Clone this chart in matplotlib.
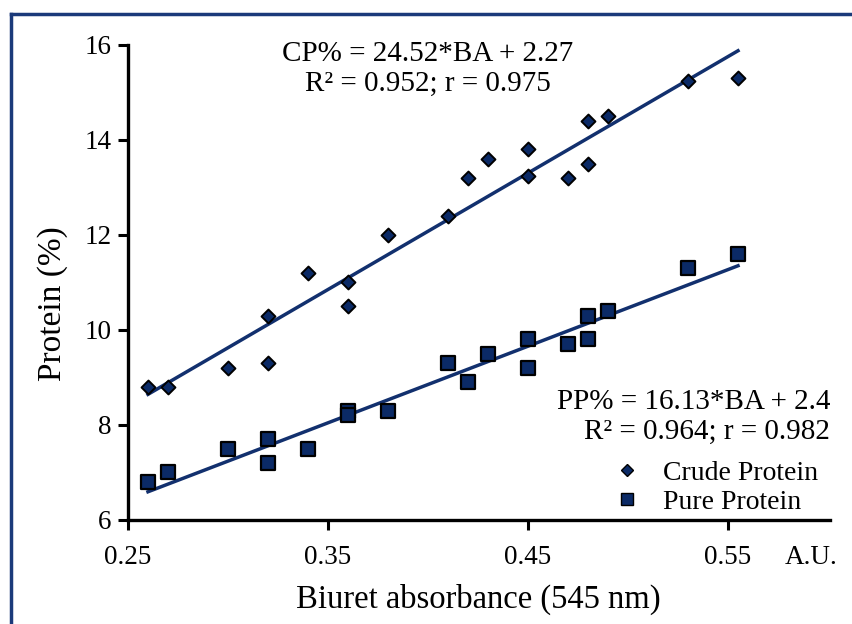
import numpy as np
import matplotlib.pyplot as plt
from matplotlib.lines import Line2D

# Biuret absorbance (A.U.) and protein content (%)
cp_x = [0.26, 0.27, 0.30, 0.32, 0.32, 0.34, 0.36, 0.36, 0.38, 0.41,
        0.42, 0.43, 0.45, 0.45, 0.47, 0.48, 0.48, 0.49, 0.53, 0.555]
cp_y = [8.8, 8.8, 9.2, 9.3, 10.3, 11.2, 10.5, 11.0, 12.0, 12.4,
        13.2, 13.6, 13.8, 13.25, 13.2, 14.4, 13.5, 14.5, 15.25, 15.3]

pp_x = [0.26, 0.27, 0.30, 0.32, 0.32, 0.34, 0.36, 0.36, 0.38, 0.41,
        0.42, 0.43, 0.45, 0.45, 0.47, 0.48, 0.48, 0.49, 0.53, 0.555]
pp_y = [6.8, 7.0, 7.5, 7.7, 7.2, 7.5, 8.3, 8.2, 8.3, 9.3,
        8.9, 9.5, 9.8, 9.2, 9.7, 10.3, 9.8, 10.4, 11.3, 11.6]

# regression coefficients as printed on the chart
cp_slope, cp_icpt = 24.52, 2.27
pp_slope, pp_icpt = 16.13, 2.4

x_ticks = [0.25, 0.35, 0.45, 0.55]
y_ticks = [6, 8, 10, 12, 14, 16]

navy = '#0b2a66'
line_col = '#12306e'

plt.rcParams['font.family'] = ['Liberation Serif', 'DejaVu Serif']

fig = plt.figure(figsize=(8.52, 6.24), dpi=100)
ax = fig.add_axes([0.1502, 0.1667, 0.824, 0.7612])

# fitted lines
xf = np.array([min(cp_x), max(cp_x)])
ax.plot(xf, cp_slope * xf + cp_icpt, color=line_col, lw=2.5, zorder=2)
xf = np.array([min(pp_x), max(pp_x)])
ax.plot(xf, pp_slope * xf + pp_icpt, color=line_col, lw=2.5, zorder=2)

ax.scatter(cp_x, cp_y, marker='D', s=50, facecolor=navy, edgecolor='black',
           linewidths=1.4, zorder=3)
ax.scatter(pp_x, pp_y, marker='s', s=90, facecolor=navy, edgecolor='black',
           linewidths=1.6, zorder=3)

ax.set_xlim(0.25, 0.601)
ax.set_ylim(6, 16)
ax.set_xticks(x_ticks)
ax.set_yticks(y_ticks)
ax.set_xticklabels([f'{t:.2f}' for t in x_ticks])
ax.tick_params(axis='both', direction='out', length=7, width=2.2,
               labelsize=19.5, pad=5)
ax.tick_params(axis='x', pad=11)
for s in ['top', 'right']:
    ax.spines[s].set_visible(False)
for s in ['left', 'bottom']:
    ax.spines[s].set_linewidth(2.4)

ax.set_xlabel('Biuret absorbance (545 nm)', fontsize=23.5)
ax.xaxis.set_label_coords(0.4986, -0.168)
ax.xaxis.label.set_va('center')
ax.set_ylabel('Protein (%)', fontsize=24)
ax.yaxis.set_label_coords(-0.108, 0.455)
ax.yaxis.label.set_va('center')
ax.text(1.01, -0.078, 'A.U.', transform=ax.transAxes, fontsize=19.5,
        ha='right', va='center')

ax.text(0.427, 0.9505, 'CP% = 24.52*BA + 2.27\nR² = 0.952; r = 0.975',
        transform=ax.transAxes, fontsize=21, ha='center', va='center',
        linespacing=1.2)
ax.text(1.0, 0.217, 'PP% = 16.13*BA + 2.4\nR² = 0.964; r = 0.982',
        transform=ax.transAxes, fontsize=21, ha='right', va='center',
        linespacing=1.15)

handles = [
    Line2D([], [], marker='D', ls='none', markersize=6.5, markerfacecolor=navy,
           markeredgecolor='black', markeredgewidth=1.0),
    Line2D([], [], marker='s', ls='none', markersize=8.5, markerfacecolor=navy,
           markeredgecolor='black', markeredgewidth=1.0),
]
ax.legend(handles, ['Crude Protein', 'Pure Protein'], loc='lower right',
          bbox_to_anchor=(1.019, -0.042), frameon=False, fontsize=20,
          handlelength=1.0, handletextpad=0.8, labelspacing=0.12)

# dark blue frame around the figure (only left and top edges visible)
fig.add_artist(Line2D([0.0128, 0.0128], [0.0, 0.9775], color='#1b3a7a',
                      lw=2.5, transform=fig.transFigure))
fig.add_artist(Line2D([0.0128, 1.0], [0.9775, 0.9775], color='#1b3a7a',
                      lw=2.5, transform=fig.transFigure))

fig.savefig('out.png', dpi=100)
